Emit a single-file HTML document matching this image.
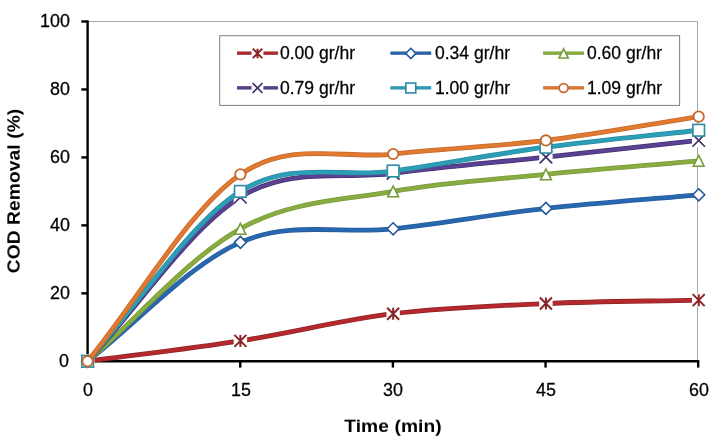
<!DOCTYPE html>
<html><head><meta charset="utf-8"><title>chart</title>
<style>
html,body{margin:0;padding:0;background:#fff}
#c{position:absolute;left:0;top:0;width:721px;height:445px;overflow:hidden;background:#fff;font-family:"Liberation Sans",sans-serif}
.t{position:absolute;font-size:17.9px;line-height:20px;height:20px;color:#000;-webkit-text-stroke:0.25px #000;white-space:nowrap;will-change:transform;transform:scaleY(1.04);transform-origin:50% 80%}
.b{font-weight:bold;font-size:19.2px;transform:scaleY(0.95);-webkit-text-stroke:0}
</style></head><body><div id="c">
<svg width="721" height="445" viewBox="0 0 721 445" style="display:block;position:absolute;left:0;top:0">
<rect width="721" height="445" fill="#fff"/>
<path d="M87.6,21.5L697.5,21.5L697.5,361.3" fill="none" stroke="#a6a6a6" stroke-width="1"/>
<path d="M87.6,20.4L87.6,362.40000000000003" stroke="#000" stroke-width="2.4" fill="none"/>
<path d="M86.5,361.3L699.3000000000001,361.3" stroke="#000" stroke-width="2.4" fill="none"/>
<path d="M81.30,361.30L87.60,361.30" stroke="#000" stroke-width="2.4"/>
<path d="M81.30,293.34L87.60,293.34" stroke="#000" stroke-width="2.4"/>
<path d="M81.30,225.38L87.60,225.38" stroke="#000" stroke-width="2.4"/>
<path d="M81.30,157.42L87.60,157.42" stroke="#000" stroke-width="2.4"/>
<path d="M81.30,89.46L87.60,89.46" stroke="#000" stroke-width="2.4"/>
<path d="M81.30,21.50L87.60,21.50" stroke="#000" stroke-width="2.4"/>
<path d="M87.60,361.3L87.60,367.6" stroke="#000" stroke-width="2.4"/>
<path d="M240.25,361.3L240.25,367.6" stroke="#000" stroke-width="2.4"/>
<path d="M392.90,361.3L392.90,367.6" stroke="#000" stroke-width="2.4"/>
<path d="M545.55,361.3L545.55,367.6" stroke="#000" stroke-width="2.4"/>
<path d="M698.20,361.3L698.20,367.6" stroke="#000" stroke-width="2.4"/>
<path d="M87.60,361.30 C138.52,354.50 189.45,348.84 240.38,340.91 C291.30,332.98 342.22,319.96 393.15,313.73 C444.07,307.50 495.00,305.80 545.92,303.53 C596.85,301.27 647.77,301.27 698.70,300.14" fill="none" stroke="#8a2426" stroke-width="4.8" stroke-linecap="round" stroke-linejoin="round"/>
<path d="M87.60,361.30 C138.52,354.50 189.45,348.84 240.38,340.91 C291.30,332.98 342.22,319.96 393.15,313.73 C444.07,307.50 495.00,305.80 545.92,303.53 C596.85,301.27 647.77,301.27 698.70,300.14" fill="none" stroke="#b5292d" stroke-width="3.4" stroke-linecap="round" stroke-linejoin="round"/>
<rect x="80.90" y="354.60" width="13.40" height="13.40" fill="#fff"/><g stroke="#8a2426" stroke-width="2" fill="none"><path d="M81.60,355.30L93.60,367.30M81.60,367.30L93.60,355.30M87.60,355.30L87.60,367.30"/></g>
<rect x="233.68" y="334.21" width="13.40" height="13.40" fill="#fff"/><g stroke="#8a2426" stroke-width="2" fill="none"><path d="M234.38,334.91L246.38,346.91M234.38,346.91L246.38,334.91M240.38,334.91L240.38,346.91"/></g>
<rect x="386.45" y="307.03" width="13.40" height="13.40" fill="#fff"/><g stroke="#8a2426" stroke-width="2" fill="none"><path d="M387.15,307.73L399.15,319.73M387.15,319.73L399.15,307.73M393.15,307.73L393.15,319.73"/></g>
<rect x="539.22" y="296.83" width="13.40" height="13.40" fill="#fff"/><g stroke="#8a2426" stroke-width="2" fill="none"><path d="M539.92,297.53L551.92,309.53M539.92,309.53L551.92,297.53M545.92,297.53L545.92,309.53"/></g>
<rect x="692.00" y="293.44" width="13.40" height="13.40" fill="#fff"/><g stroke="#8a2426" stroke-width="2" fill="none"><path d="M692.70,294.14L704.70,306.14M692.70,306.14L704.70,294.14M698.70,294.14L698.70,306.14"/></g>
<path d="M87.60,361.30 C138.52,321.66 189.45,264.46 240.38,242.37 C291.30,220.28 342.22,234.44 393.15,228.78 C444.07,223.11 495.00,214.05 545.92,208.39 C596.85,202.73 647.77,199.33 698.70,194.80" fill="none" stroke="#245a9a" stroke-width="4.8" stroke-linecap="round" stroke-linejoin="round"/>
<path d="M87.60,361.30 C138.52,321.66 189.45,264.46 240.38,242.37 C291.30,220.28 342.22,234.44 393.15,228.78 C444.07,223.11 495.00,214.05 545.92,208.39 C596.85,202.73 647.77,199.33 698.70,194.80" fill="none" stroke="#2968b0" stroke-width="3.4" stroke-linecap="round" stroke-linejoin="round"/>
<path d="M87.60,355.30L93.60,361.30L87.60,367.30L81.60,361.30Z" fill="#fff" stroke="#245a9a" stroke-width="1.6"/>
<path d="M240.38,236.37L246.38,242.37L240.38,248.37L234.38,242.37Z" fill="#fff" stroke="#245a9a" stroke-width="1.6"/>
<path d="M393.15,222.78L399.15,228.78L393.15,234.78L387.15,228.78Z" fill="#fff" stroke="#245a9a" stroke-width="1.6"/>
<path d="M545.92,202.39L551.92,208.39L545.92,214.39L539.92,208.39Z" fill="#fff" stroke="#245a9a" stroke-width="1.6"/>
<path d="M698.70,188.80L704.70,194.80L698.70,200.80L692.70,194.80Z" fill="#fff" stroke="#245a9a" stroke-width="1.6"/>
<path d="M87.60,361.30 C138.52,317.13 189.45,257.09 240.38,228.78 C291.30,200.46 342.22,200.46 393.15,191.40 C444.07,182.34 495.00,179.51 545.92,174.41 C596.85,169.31 647.77,165.35 698.70,160.82" fill="none" stroke="#789a38" stroke-width="4.8" stroke-linecap="round" stroke-linejoin="round"/>
<path d="M87.60,361.30 C138.52,317.13 189.45,257.09 240.38,228.78 C291.30,200.46 342.22,200.46 393.15,191.40 C444.07,182.34 495.00,179.51 545.92,174.41 C596.85,169.31 647.77,165.35 698.70,160.82" fill="none" stroke="#88ac42" stroke-width="3.4" stroke-linecap="round" stroke-linejoin="round"/>
<path d="M87.60,355.90L93.00,366.70L82.20,366.70Z" fill="#fff" stroke="#789a38" stroke-width="1.6"/>
<path d="M240.38,223.38L245.78,234.18L234.97,234.18Z" fill="#fff" stroke="#789a38" stroke-width="1.6"/>
<path d="M393.15,186.00L398.55,196.80L387.75,196.80Z" fill="#fff" stroke="#789a38" stroke-width="1.6"/>
<path d="M545.92,169.01L551.32,179.81L540.52,179.81Z" fill="#fff" stroke="#789a38" stroke-width="1.6"/>
<path d="M698.70,155.42L704.10,166.22L693.30,166.22Z" fill="#fff" stroke="#789a38" stroke-width="1.6"/>
<path d="M87.60,361.30 C138.52,306.59 189.45,228.49 240.38,197.18 C291.30,165.86 342.22,180.07 393.15,173.39 C444.07,166.71 495.00,162.57 545.92,157.08 C596.85,151.59 647.77,145.98 698.70,140.43" fill="none" stroke="#402f6c" stroke-width="4.8" stroke-linecap="round" stroke-linejoin="round"/>
<path d="M87.60,361.30 C138.52,306.59 189.45,228.49 240.38,197.18 C291.30,165.86 342.22,180.07 393.15,173.39 C444.07,166.71 495.00,162.57 545.92,157.08 C596.85,151.59 647.77,145.98 698.70,140.43" fill="none" stroke="#5a4194" stroke-width="3.4" stroke-linecap="round" stroke-linejoin="round"/>
<rect x="80.90" y="354.60" width="13.40" height="13.40" fill="#fff"/><g stroke="#402f6c" stroke-width="1.7" fill="none"><path d="M81.30,355.00L93.90,367.60M81.30,367.60L93.90,355.00"/></g>
<rect x="233.68" y="190.48" width="13.40" height="13.40" fill="#fff"/><g stroke="#402f6c" stroke-width="1.7" fill="none"><path d="M234.07,190.88L246.68,203.48M234.07,203.48L246.68,190.88"/></g>
<rect x="386.45" y="166.69" width="13.40" height="13.40" fill="#fff"/><g stroke="#402f6c" stroke-width="1.7" fill="none"><path d="M386.85,167.09L399.45,179.69M386.85,179.69L399.45,167.09"/></g>
<rect x="539.22" y="150.38" width="13.40" height="13.40" fill="#fff"/><g stroke="#402f6c" stroke-width="1.7" fill="none"><path d="M539.62,150.78L552.22,163.38M539.62,163.38L552.22,150.78"/></g>
<rect x="692.00" y="133.73" width="13.40" height="13.40" fill="#fff"/><g stroke="#402f6c" stroke-width="1.7" fill="none"><path d="M692.40,134.13L705.00,146.73M692.40,146.73L705.00,134.13"/></g>
<path d="M87.60,361.30 C138.52,304.67 189.45,223.11 240.38,191.40 C291.30,159.69 342.22,178.37 393.15,171.01 C444.07,163.65 495.00,154.02 545.92,147.23 C596.85,140.43 647.77,135.90 698.70,130.24" fill="none" stroke="#2a8ba2" stroke-width="4.8" stroke-linecap="round" stroke-linejoin="round"/>
<path d="M87.60,361.30 C138.52,304.67 189.45,223.11 240.38,191.40 C291.30,159.69 342.22,178.37 393.15,171.01 C444.07,163.65 495.00,154.02 545.92,147.23 C596.85,140.43 647.77,135.90 698.70,130.24" fill="none" stroke="#2c9fb7" stroke-width="3.4" stroke-linecap="round" stroke-linejoin="round"/>
<rect x="81.80" y="355.50" width="11.60" height="11.60" fill="#fff" stroke="#2a8ba2" stroke-width="1.6"/>
<rect x="234.57" y="185.60" width="11.60" height="11.60" fill="#fff" stroke="#2a8ba2" stroke-width="1.6"/>
<rect x="387.35" y="165.21" width="11.60" height="11.60" fill="#fff" stroke="#2a8ba2" stroke-width="1.6"/>
<rect x="540.12" y="141.43" width="11.60" height="11.60" fill="#fff" stroke="#2a8ba2" stroke-width="1.6"/>
<rect x="692.90" y="124.44" width="11.60" height="11.60" fill="#fff" stroke="#2a8ba2" stroke-width="1.6"/>
<path d="M87.60,361.30 C138.52,299.00 189.45,208.96 240.38,174.41 C291.30,139.86 342.22,159.69 393.15,154.02 C444.07,148.36 495.00,146.66 545.92,140.43 C596.85,134.20 647.77,124.57 698.70,116.64" fill="none" stroke="#c6672b" stroke-width="4.8" stroke-linecap="round" stroke-linejoin="round"/>
<path d="M87.60,361.30 C138.52,299.00 189.45,208.96 240.38,174.41 C291.30,139.86 342.22,159.69 393.15,154.02 C444.07,148.36 495.00,146.66 545.92,140.43 C596.85,134.20 647.77,124.57 698.70,116.64" fill="none" stroke="#e07a30" stroke-width="3.4" stroke-linecap="round" stroke-linejoin="round"/>
<circle cx="87.60" cy="361.30" r="5.20" fill="#fff" stroke="#c6672b" stroke-width="1.8"/>
<circle cx="240.38" cy="174.41" r="5.20" fill="#fff" stroke="#c6672b" stroke-width="1.8"/>
<circle cx="393.15" cy="154.02" r="5.20" fill="#fff" stroke="#c6672b" stroke-width="1.8"/>
<circle cx="545.92" cy="140.43" r="5.20" fill="#fff" stroke="#c6672b" stroke-width="1.8"/>
<circle cx="698.70" cy="116.64" r="5.20" fill="#fff" stroke="#c6672b" stroke-width="1.8"/>
<rect x="219.7" y="35.7" width="459.9" height="69.7" fill="#fff" stroke="#7f7f7f" stroke-width="1"/>
<path d="M237.1,53.2L277.9,53.2" stroke="#8a2426" stroke-width="3.3"/>
<path d="M237.6,53.2L277.4,53.2" stroke="#b5292d" stroke-width="2.1"/>
<rect x="251.58" y="47.48" width="11.85" height="11.85" fill="#fff"/><g stroke="#8a2426" stroke-width="2" fill="none"><path d="M252.76,48.66L262.24,58.14M252.76,58.14L262.24,48.66M257.50,48.66L257.50,58.14"/></g>
<path d="M390.4,53.2L431.2,53.2" stroke="#245a9a" stroke-width="3.3"/>
<path d="M390.9,53.2L430.7,53.2" stroke="#2968b0" stroke-width="2.1"/>
<path d="M410.80,48.30L415.90,53.40L410.80,58.50L405.70,53.40Z" fill="#fff" stroke="#245a9a" stroke-width="1.6"/>
<path d="M543.2,53.2L584.0,53.2" stroke="#789a38" stroke-width="3.3"/>
<path d="M543.7,53.2L583.5,53.2" stroke="#88ac42" stroke-width="2.1"/>
<path d="M563.60,48.81L568.19,57.99L559.01,57.99Z" fill="#fff" stroke="#789a38" stroke-width="1.6"/>
<path d="M237.1,87.8L277.9,87.8" stroke="#402f6c" stroke-width="3.3"/>
<path d="M237.6,87.8L277.4,87.8" stroke="#5a4194" stroke-width="2.1"/>
<rect x="251.58" y="82.08" width="11.85" height="11.85" fill="#fff"/><g stroke="#402f6c" stroke-width="1.7" fill="none"><path d="M252.52,83.02L262.48,92.98M252.52,92.98L262.48,83.02"/></g>
<path d="M390.4,87.8L431.2,87.8" stroke="#2a8ba2" stroke-width="3.3"/>
<path d="M390.9,87.8L430.7,87.8" stroke="#2c9fb7" stroke-width="2.1"/>
<rect x="405.87" y="83.07" width="9.86" height="9.86" fill="#fff" stroke="#2a8ba2" stroke-width="1.6"/>
<path d="M543.2,87.8L584.0,87.8" stroke="#c6672b" stroke-width="3.3"/>
<path d="M543.7,87.8L583.5,87.8" stroke="#e07a30" stroke-width="2.1"/>
<circle cx="563.60" cy="88.00" r="4.42" fill="#fff" stroke="#c6672b" stroke-width="1.8"/>
</svg>
<div class="t" style="right:651.6px;top:351.10px;text-align:right;transform-origin:100% 80%">0</div>
<div class="t" style="right:651.6px;top:283.14px;text-align:right;transform-origin:100% 80%">20</div>
<div class="t" style="right:651.6px;top:215.18px;text-align:right;transform-origin:100% 80%">40</div>
<div class="t" style="right:651.6px;top:147.22px;text-align:right;transform-origin:100% 80%">60</div>
<div class="t" style="right:651.6px;top:79.26px;text-align:right;transform-origin:100% 80%">80</div>
<div class="t" style="right:651.6px;top:11.30px;text-align:right;transform-origin:100% 80%">100</div>
<div class="t" style="left:58.10px;width:60px;top:379.9px;text-align:center">0</div>
<div class="t" style="left:210.75px;width:60px;top:379.9px;text-align:center">15</div>
<div class="t" style="left:363.40px;width:60px;top:379.9px;text-align:center">30</div>
<div class="t" style="left:516.05px;width:60px;top:379.9px;text-align:center">45</div>
<div class="t" style="left:668.70px;width:60px;top:379.9px;text-align:center">60</div>
<div class="t" style="left:280.10px;top:43.10px;font-size:17.55px;transform-origin:0 80%;transform:scaleY(1.03)">0.00 gr/hr</div>
<div class="t" style="left:434.60px;top:43.10px;font-size:17.55px;transform-origin:0 80%;transform:scaleY(1.03)">0.34 gr/hr</div>
<div class="t" style="left:586.90px;top:43.10px;font-size:17.55px;transform-origin:0 80%;transform:scaleY(1.03)">0.60 gr/hr</div>
<div class="t" style="left:280.10px;top:77.70px;font-size:17.55px;transform-origin:0 80%;transform:scaleY(1.03)">0.79 gr/hr</div>
<div class="t" style="left:434.60px;top:77.70px;font-size:17.55px;transform-origin:0 80%;transform:scaleY(1.03)">1.00 gr/hr</div>
<div class="t" style="left:586.90px;top:77.70px;font-size:17.55px;transform-origin:0 80%;transform:scaleY(1.03)">1.09 gr/hr</div>
<div class="t b" style="left:293.3px;width:200px;top:416.1px;text-align:center;letter-spacing:0.1px">Time (min)</div>
<div class="t b" style="left:-85.9px;width:200px;top:181.2px;text-align:center;letter-spacing:0.1px;transform-origin:50% 50%;transform:rotate(-90deg) scaleY(0.95)">COD Removal (%)</div>
</div></body></html>
